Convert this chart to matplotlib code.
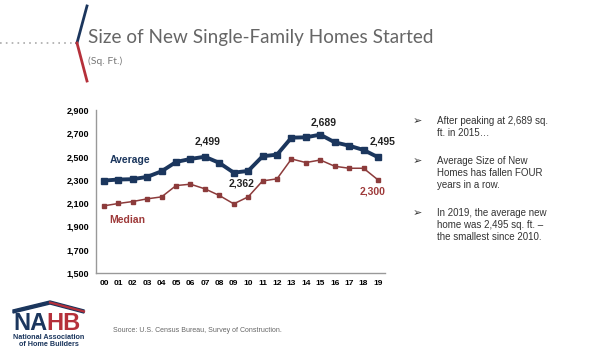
import matplotlib
matplotlib.use('agg')
import matplotlib.pyplot as plt
from matplotlib.patches import Polygon

years = ['00', '01', '02', '03', '04', '05', '06', '07', '08', '09',
         '10', '11', '12', '13', '14', '15', '16', '17', '18', '19']
average = [2294, 2303, 2306, 2326, 2374, 2454, 2480, 2499, 2446, 2362,
           2377, 2503, 2517, 2663, 2666, 2689, 2623, 2594, 2557, 2495]
median = [2077, 2097, 2114, 2137, 2154, 2251, 2263, 2223, 2166, 2094,
          2154, 2291, 2309, 2480, 2449, 2471, 2417, 2400, 2400, 2300]
yticks = [1500, 1700, 1900, 2100, 2300, 2500, 2700, 2900]
bullets = ["After peaking at 2,689 sq.\nft. in 2015\u2026",
           "Average Size of New\nHomes has fallen FOUR\nyears in a row.",
           "In 2019, the average new\nhome was 2,495 sq. ft. \u2013\nthe smallest since 2010."]

navy = '#1b365d'
red = '#9e3a3a'
plt.rcParams['font.family'] = ['Liberation Sans', 'DejaVu Sans']

fig = plt.figure(figsize=(6, 3.54), dpi=100)
ax = fig.add_axes([0.16, 0.229, 0.482, 0.46])
x = list(range(len(years)))
ax.plot(x, average, color=navy, lw=2.8, marker='s', ms=5, zorder=3)
ax.plot(x, median, color='#8c3b3b', lw=1.1, marker='s', ms=2.6, zorder=2)
ax.set_xlim(-0.55, 19.5)
ax.set_ylim(1500, 2900)
ax.set_yticks(yticks)
ax.set_yticklabels([f'{v:,}' for v in yticks], fontsize=6.5, fontweight='bold')
ax.set_xticks(x)
ax.set_xticklabels(years, fontsize=6, fontweight='bold')
ax.tick_params(length=0, pad=5)
for s in ['top', 'right']:
    ax.spines[s].set_visible(False)
for s in ['left', 'bottom']:
    ax.spines[s].set_color('#999999')
    ax.spines[s].set_linewidth(1)

# point labels (offsets in pixels)
lab = dict(fontsize=7.5, fontweight='bold', ha='center', va='center',
           textcoords='offset pixels')
ax.annotate('2,499', (7, average[7]), xytext=(3, 15), color='#222222', **lab)
ax.annotate('2,362', (9, average[9]), xytext=(8, -11), color='#222222', **lab)
ax.annotate('2,689', (15, average[15]), xytext=(3, 12), color='#222222', **lab)
ax.annotate('2,495', (19, average[19]), xytext=(5, 16), color='#222222', **lab)
ax.annotate('2,300', (19, median[19]), xytext=(-5, -12), color=red, **lab)
ax.text(1.8, 2470, 'Average', color=navy, fontsize=7.5, fontweight='bold', ha='center', va='center')
ax.text(1.6, 1955, 'Median', color=red, fontsize=7.5, fontweight='bold', ha='center', va='center')

# title block
fig.text(88/600, 1-37/354, 'Size of New Single-Family Homes Started', fontsize=13.6,
         family=['Lato', 'DejaVu Sans'], color='#666666', va='center', ha='left')
fig.text(88/600, 1-61/354, '(Sq. Ft.)', fontsize=7.5, family=['Lato', 'DejaVu Sans'],
         color='#777777', va='center', ha='left')
fig.add_artist(plt.Line2D([0, 76/600], [1-43/354, 1-43/354], color='#aaaaaa', lw=1.2,
                          ls=(0, (1, 2.5))))
fig.add_artist(plt.Line2D([87/600, 77/600], [1-6/354, 1-43/354], color=navy, lw=2))
fig.add_artist(plt.Line2D([77/600, 87/600], [1-43/354, 1-81/354], color='#b5303a', lw=2))

# bullets
for by, t in zip([121, 161, 213], bullets):
    fig.text(417/600, 1-by/354, '\u27a2', fontsize=8, family=['DejaVu Sans'],
             color='#333333', va='center', ha='center')
    fig.text(437/600, 1-(by-5)/354, t, fontsize=7, color='#333333', va='top', ha='left',
             linespacing=1.25)

# logo and source
roof = Polygon([(13/600, 1-310/354), (50/600, 1-301/354), (84/600, 1-310/354),
                (84/600, 1-313/354), (50/600, 1-304/354), (13/600, 1-313/354)],
               closed=True, transform=fig.transFigure, color=navy)
fig.add_artist(roof)
fig.add_artist(plt.Line2D([50/600, 84/600], [1-302.5/354, 1-311.5/354], color='#b5303a', lw=1.6))
na = fig.text(13/600, 1-324/354, 'NA', fontsize=17, fontweight='bold', color=navy,
              va='center', ha='left')
fig.canvas.draw()
bb = na.get_window_extent()
fig.text(bb.x1/600 - 1/600, 1-324/354, 'HB', fontsize=17, fontweight='bold', color='#b5303a',
         va='center', ha='left')
fig.text(49/600, 1-341/354, 'National Association\nof Home Builders', fontsize=5.2,
         fontweight='bold', color=navy, va='center', ha='center', linespacing=1.05)
fig.text(113/600, 1-331/354, 'Source: U.S. Census Bureau, Survey of Construction.', fontsize=5,
         color='#666666', va='center', ha='left')

fig.savefig('out.png', dpi=100)
